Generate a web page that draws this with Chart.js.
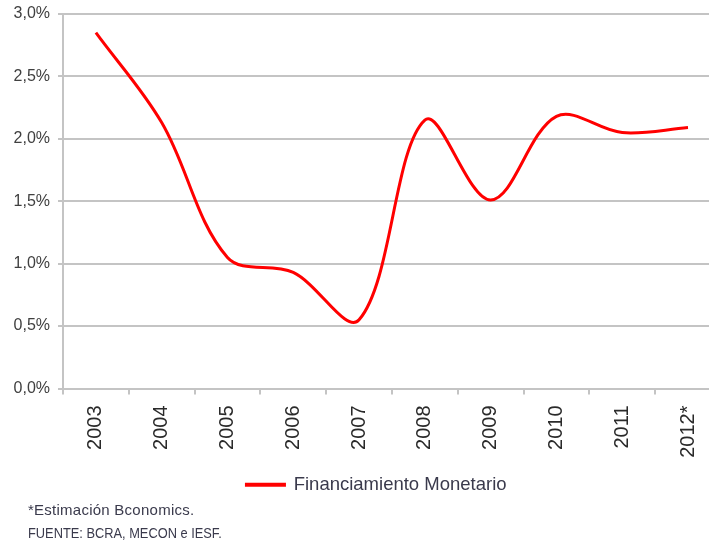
<!DOCTYPE html>
<html>
<head>
<meta charset="utf-8">
<script src="https://cdn.jsdelivr.net/npm/chart.js@4/dist/chart.umd.min.js"></script>
<style>
  html, body { margin: 0; padding: 0; background: #fff; overflow: hidden; }
  #wrap { position: relative; width: 709px; height: 548px; overflow: hidden; }
  .note { position: absolute; left: 28px; font-family: 'Liberation Sans', Arial, sans-serif;
          font-size: 15px; color: #3a3a4c; white-space: nowrap; transform-origin: 0 0; }
</style>
</head>
<body>
<div id="wrap">
  <canvas id="chart" width="723" height="548"></canvas>
  <div class="note" style="top:501px;letter-spacing:0.25px">*Estimación Bconomics.</div>
  <div class="note" style="top:524px;transform:scaleX(0.855)">FUENTE: BCRA, MECON e IESF.</div>
</div>
<script>
// ── Datos ────────────────────────────────────────────
const years  = ['2003', '2004', '2005', '2006', '2007', '2008', '2009', '2010', '2011', '2012*']
const values = [2.85, 2.13, 1.05, 0.93, 0.55, 2.15, 1.51, 2.18, 2.05, 2.09]
const yTicks = [0, 0.5, 1, 1.5, 2, 2.5, 3]

const GRID = '#c4c4c4'
const FONT = "'Liberation Sans', Arial, sans-serif"

// la leyenda del original no está centrada en el lienzo: se corre un poco a la derecha
const legendShift = {
  id: 'legendShift',
  afterLayout(chart) {
    chart.legend.left += 15
    chart.legend.right += 15
  }
}

/* global Chart */
new Chart(document.getElementById('chart'), {
  type: 'line',
  data: {
    labels: years,
    datasets: [{
      label: 'Financiamiento Monetario',
      data: values,
      borderColor: '#ff0000',
      backgroundColor: '#ff0000',
      borderWidth: 3,
      tension: 0.35,
      pointRadius: 0,
      fill: false,
    }]
  },
  plugins: [legendShift],
  options: {
    responsive: false,
    animation: false,
    layout: { padding: { left: 0, top: 14, right: 0, bottom: 44 } },
    plugins: {
      tooltip: { enabled: false },
      legend: {
        position: 'bottom',
        labels: {
          boxWidth: 38, boxHeight: 1, padding: 10,
          color: '#3a3a4c',
          font: { family: FONT, size: 18.5 },
        }
      }
    },
    scales: {
      x: {
        offset: true,
        grid: { offset: true, drawOnChartArea: false, drawTicks: true, tickLength: 6, color: GRID, lineWidth: 2 },
        border: { display: true, color: GRID, width: 2 },
        ticks: {
          minRotation: 90, maxRotation: 90, padding: 11,
          color: '#2a2a2a',
          font: { family: FONT, size: 20 },
        },
        afterFit: s => { s.height = 77 }
      },
      y: {
        min: 0, max: 3,
        afterBuildTicks: s => { s.ticks = yTicks.map(v => ({ value: v })) },
        grid: { color: GRID, lineWidth: 2, tickLength: 5 },
        border: { display: true, color: GRID, width: 2 },
        ticks: {
          padding: 8,
          color: '#404040',
          font: { family: FONT, size: 16 },
          callback: v => v.toFixed(1).replace('.', ',') + '%'
        },
        afterFit: s => { s.width = 63; s.paddingTop = 6; s.paddingBottom = 6 }
      }
    }
  }
})
</script>
</body>
</html>
